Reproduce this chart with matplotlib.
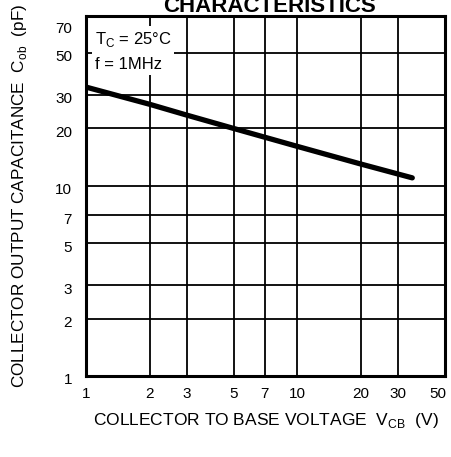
import matplotlib
matplotlib.use("Agg")
import matplotlib.pyplot as plt
import matplotlib.transforms as mtransforms

# Data
v_cb = [1, 2, 3, 5, 7, 10, 20, 35]
c_ob = [33, 26.8, 23.5, 20, 18, 16.1, 13, 11]

x_ticks = [1, 2, 3, 5, 7, 10, 20, 30, 50]
x_tick_labels = ["1", "2", "3", "5", "7", "10", "20", "30", "50"]
y_ticks = [1, 2, 3, 5, 7, 10, 20, 30, 50, 70]
y_tick_labels = ["1", "2", "3", "5", "7", "10", "20", "30", "50", "70"]
x_grid = [2, 3, 5, 7, 10, 20, 30]
y_grid = [2, 3, 5, 7, 10, 20, 30, 50]

plt.rcParams['font.family'] = ['Liberation Sans', 'DejaVu Sans']

fig = plt.figure(figsize=(4.51, 4.57), dpi=100)
ax = fig.add_axes([86/451, 1 - 376/457, (445-86)/451, (376-16)/457])
ax.set_xscale('log')
ax.set_yscale('log')
ax.set_xlim(1, 50)
ax.set_ylim(1, 78)

for xv in x_grid:
    ax.axvline(xv, color='black', lw=1.3, zorder=1)
for yv in y_grid:
    ax.axhline(yv, color='black', lw=1.3, zorder=1)

ax.plot(v_cb, c_ob, color='black', lw=3.8, solid_capstyle='round', zorder=3)

ax.set_xticks(x_ticks)
ax.set_xticklabels(x_tick_labels)
ax.set_yticks(y_ticks)
ax.set_yticklabels(y_tick_labels)
ax.minorticks_off()
ax.tick_params(axis='both', length=0, labelsize=11)
ax.tick_params(axis='x', pad=8)
ax.tick_params(axis='y', pad=10)
offset = mtransforms.ScaledTranslation(0, -3/100, fig.dpi_scale_trans)
for lab in ax.get_yticklabels():
    lab.set_transform(lab.get_transform() + offset)
xl = ax.get_xticklabels()
shift = mtransforms.ScaledTranslation(-7/100, 0, fig.dpi_scale_trans)
xl[-1].set_transform(xl[-1].get_transform() + shift)

for s in ax.spines.values():
    s.set_linewidth(2.2)

ax.text(0.025, 0.96, "T$_\\mathregular{C}$ = 25°C\nf = 1MHz", transform=ax.transAxes,
        ha='left', va='top', fontsize=12, linespacing=1.65, zorder=4,
        bbox=dict(facecolor='white', edgecolor='none', pad=2))

ax.set_xlabel("COLLECTOR TO BASE VOLTAGE  V$_\\mathregular{CB}$  (V)", fontsize=12.5, labelpad=7)
ax.set_ylabel("COLLECTOR OUTPUT CAPACITANCE  C$_\\mathregular{ob}$  (pF)", fontsize=12.3, labelpad=19)

fig.text(270/451, 1 - 12/457, "CHARACTERISTICS", ha='center', va='baseline',
         fontsize=16, fontweight='bold')

fig.savefig("out.png", dpi=100)
